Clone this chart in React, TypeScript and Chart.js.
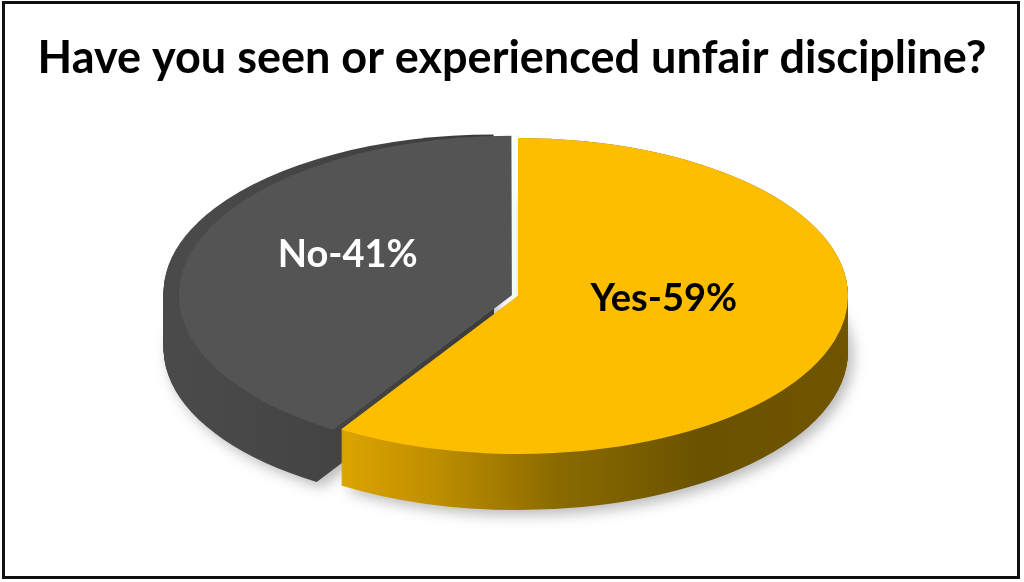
import React, { useEffect, useRef } from "react";
import { Chart, registerables } from "chart.js";

Chart.register(...registerables);

// ---- data ----
const categories = ["Yes", "No"];
const values = [59, 41];
const labelTexts = ["Yes-59%", "No-41%"];
const topColors = ["#FDBE00", "#545454"];
const labelColors = ["#000000", "#FFFFFF"];
const sliceOffsets = [0, 17];
const titleText = "Have you seen or experienced unfair discipline?";

// ---- 3D projection layout ----
const CX = 518;
const CY = 296;
const RX = 330;
const RY = 158;
const DEPTH = 56;
const LABEL_FRAC = 0.46;
const LABEL_LIFT = 18;
const FONT = "Lato, 'Open Sans', sans-serif";

const sideStops: [number, string][][] = [
  [
    [0, "#E8AE00"],
    [0.2, "#E2A900"],
    [0.37, "#C08F00"],
    [0.56, "#8A6A00"],
    [0.78, "#6B5200"],
    [1, "#705500"],
  ],
  [
    [0, "#4a4a4a"],
    [0.3, "#414141"],
    [0.5, "#3a3a3a"],
    [1, "#3a3a3a"],
  ],
];

const pie3d = {
  id: "pie3d",
  beforeDatasetsDraw(chart: any) {
    const ctx: CanvasRenderingContext2D = chart.ctx;
    const dpr = chart.currentDevicePixelRatio || 1;
    const arcs = chart.getDatasetMeta(0).data;
    if (!arcs.length) return;
    const a0 = arcs[0];
    const R = a0.outerRadius;
    const sx = RX / R;
    const sy = RY / R;
    const e = CX - sx * a0.x;
    const f = CY - sy * a0.y;
    chart.$p3 = { sx, sy, e, f, R };
    ctx.save();
    const order = [1, 0];
    for (const i of order) {
      const arc = arcs[i];
      const off = arc.options.offset || 0;
      const mid = (arc.startAngle + arc.endAngle) / 2;
      const ox = Math.cos(mid) * off;
      const oy = Math.sin(mid) * off;
      const grad = ctx.createLinearGradient((CX - RX) * dpr, 0, (CX + RX) * dpr, 0);
      for (const [t, c] of sideStops[i]) grad.addColorStop(t, c);
      for (let d = DEPTH; d >= 0; d--) {
        ctx.setTransform(dpr * sx, 0, 0, dpr * sy, dpr * e, dpr * (f + d));
        ctx.beginPath();
        ctx.moveTo(arc.x + ox, arc.y + oy);
        ctx.arc(arc.x + ox, arc.y + oy, arc.outerRadius, arc.startAngle, arc.endAngle);
        ctx.closePath();
        ctx.setTransform(1, 0, 0, 1, 0, 0);
        if (d === DEPTH) {
          ctx.shadowColor = "rgba(0,0,0,0.28)";
          ctx.shadowBlur = 14;
          ctx.shadowOffsetX = 5;
          ctx.shadowOffsetY = 5;
        } else {
          ctx.shadowColor = "rgba(0,0,0,0)";
          ctx.shadowBlur = 0;
          ctx.shadowOffsetX = 0;
          ctx.shadowOffsetY = 0;
        }
        ctx.fillStyle = grad;
        ctx.fill();
      }
    }
    ctx.restore();
    ctx.save();
    ctx.setTransform(dpr * sx, 0, 0, dpr * sy, dpr * e, dpr * f);
  },
  afterDatasetsDraw(chart: any) {
    const ctx: CanvasRenderingContext2D = chart.ctx;
    ctx.restore();
    const p = chart.$p3;
    if (!p) return;
    const arcs = chart.getDatasetMeta(0).data;
    ctx.save();
    ctx.font = `bold 38px ${FONT}`;
    ctx.textAlign = "center";
    ctx.textBaseline = "middle";
    arcs.forEach((arc: any, i: number) => {
      const off = arc.options.offset || 0;
      const mid = (arc.startAngle + arc.endAngle) / 2;
      const r = arc.outerRadius * LABEL_FRAC + off;
      const px = arc.x + Math.cos(mid) * r;
      const py = arc.y + Math.sin(mid) * r;
      const X = p.sx * px + p.e;
      const Y = p.sy * py + p.f - LABEL_LIFT;
      ctx.fillStyle = labelColors[i];
      ctx.fillText(labelTexts[i], X, Y);
    });
    ctx.restore();
  },
};

export default function App() {
  const ref = useRef<HTMLCanvasElement | null>(null);
  useEffect(() => {
    if (!ref.current) return;
    const chart = new Chart(ref.current, {
      type: "pie",
      data: {
        labels: categories,
        datasets: [
          {
            data: values,
            backgroundColor: topColors,
            borderWidth: 0,
            offset: sliceOffsets,
            clip: false,
          } as any,
        ],
      },
      options: {
        animation: false,
        responsive: false,
        maintainAspectRatio: false,
        layout: { padding: { top: 0, bottom: 20, left: 0, right: 0 } },
        plugins: {
          legend: { display: false },
          tooltip: { enabled: false },
          title: {
            display: true,
            text: titleText,
            color: "#000000",
            font: { family: FONT, size: 45, weight: "bold" },
            padding: { top: 31, bottom: 20 },
          },
        },
      },
      plugins: [pie3d],
    });
    return () => chart.destroy();
  }, []);
  return (
    <div style={{ position: "fixed", left: 0, top: 0, width: 1024, height: 582, background: "#fff" }}>
      <canvas ref={ref} width={1024} height={582} style={{ position: "absolute", left: 0, top: 0, width: 1024, height: 582 }} />
      <div
        style={{
          position: "absolute",
          left: 2,
          top: 1,
          width: 1018,
          height: 578,
          border: "3px solid #111",
          boxSizing: "border-box",
          pointerEvents: "none",
        }}
      />
    </div>
  );
}
